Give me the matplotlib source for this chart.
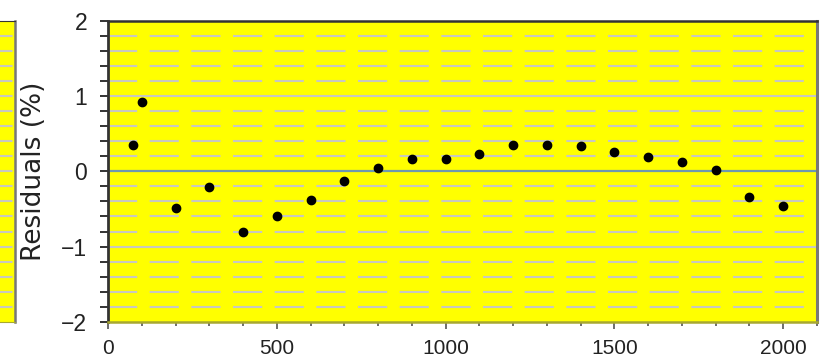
import numpy as np
import matplotlib
matplotlib.use("Agg")
import matplotlib.pyplot as plt
from matplotlib.ticker import MultipleLocator

# residual data
x_pos = [75, 100, 200, 300, 400, 500, 600, 700, 800, 900, 1000,
         1100, 1200, 1300, 1400, 1500, 1600, 1700, 1800, 1900, 2000]
resid = [0.35, 0.92, -0.49, -0.21, -0.81, -0.59, -0.38, -0.13, 0.04, 0.16, 0.16,
         0.23, 0.35, 0.35, 0.33, 0.26, 0.19, 0.12, 0.01, -0.34, -0.46]

x_ticks = [0, 500, 1000, 1500, 2000]
y_ticks = [-2, -1, 0, 1, 2]

YELLOW = "#ffff00"
GRID = "#c8c8c0"
tick_font = ["Liberation Sans", "DejaVu Sans"]

fig = plt.figure(figsize=(8.21, 3.61), dpi=100)

# main axes
ax = fig.add_axes([108/821, 1-322/361, (817-108)/821, (322-20.5)/361])
ax.set_facecolor(YELLOW)
ax.set_xlim(0, 2100)
ax.set_ylim(-2, 2)

# grid: dashed every 0.2, solid at integers, blue zero line
for v in np.arange(-1.8, 2.0, 0.2):
    v = round(v, 1)
    if v == 0:
        ax.axhline(v, color="#6d98b0", lw=1.6, zorder=1)
    elif v == int(v):
        ax.axhline(v, color=GRID, lw=1.5, zorder=1)
    else:
        ax.axhline(v, color=GRID, lw=1.5, dashes=(14, 6), zorder=1)

ax.plot(x_pos, resid, "o", color="black", ms=6, zorder=3)

ax.set_xticks(x_ticks)
ax.set_yticks(y_ticks)
ax.xaxis.set_minor_locator(MultipleLocator(100))
ax.yaxis.set_minor_locator(MultipleLocator(0.2))
ax.tick_params(axis="y", which="both", direction="out", length=6, width=1.4,
               color="#333333", pad=9)
ax.tick_params(axis="x", which="major", direction="out", length=5, width=1.2,
               color="#555555", pad=7)
ax.tick_params(axis="x", which="minor", direction="out", length=3, width=1.2,
               color="#555555")
for lab in ax.get_yticklabels():
    lab.set_family(tick_font)
    lab.set_fontsize(16.5)
    lab.set_color("#222222")
for lab in ax.get_xticklabels():
    lab.set_family(tick_font)
    lab.set_fontsize(15)
    lab.set_color("#222222")

ax.set_ylabel("Residuals (%)", fontsize=19, family=["DejaVu Sans"],
              color="#222222", labelpad=10)

ax.spines["left"].set_color("#333333")
ax.spines["left"].set_linewidth(2)
ax.spines["top"].set_color("#333333")
ax.spines["top"].set_linewidth(1.8)
ax.spines["right"].set_color("#777777")
ax.spines["right"].set_linewidth(2.2)
ax.spines["bottom"].set_color("#a8a830")
ax.spines["bottom"].set_linewidth(1.8)

# partial neighbouring panel on the left edge
ax2 = fig.add_axes([0, 1-322/361, 15/821, (322-20.5)/361])
ax2.set_facecolor(YELLOW)
ax2.set_xlim(0, 1)
ax2.set_ylim(-2, 2)
for v in np.arange(-1.8, 2.0, 0.2):
    v = round(v, 1)
    ax2.axhline(v, color=GRID, lw=1.5, dashes=(6, 3), zorder=1)
ax2.set_xticks([])
ax2.set_yticks([])
ax2.spines["left"].set_visible(False)
ax2.spines["top"].set_color("#333333")
ax2.spines["right"].set_color("#777777")
ax2.spines["right"].set_linewidth(1.8)
ax2.spines["bottom"].set_color("#a8a830")

fig.savefig("out.png", dpi=100)
